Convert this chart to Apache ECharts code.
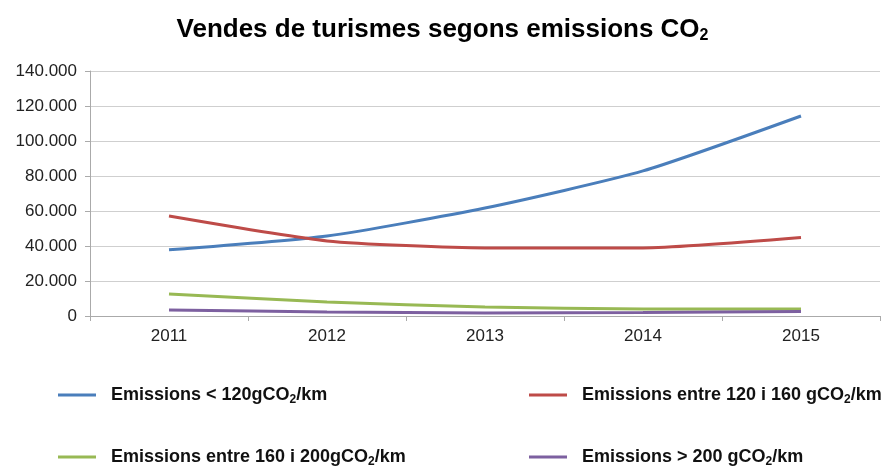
<!DOCTYPE html>
<html>
<head>
<meta charset="utf-8">
<script src="https://cdn.jsdelivr.net/npm/echarts@6/dist/echarts.min.js"></script>
<style>
  html, body { margin: 0; padding: 0; background: #fff; }
  #chart { width: 885px; height: 467px; }
</style>
</head>
<body>
<div id="chart"></div>
<script>
// dades llegides del grafic
var years = ['2011', '2012', '2013', '2014', '2015'];
var menys120 = [37800, 45700, 61700, 82900, 114300];
var entre120i160 = [57100, 42900, 38900, 38900, 44800];
var entre160i200 = [12600, 8000, 5100, 4000, 4000];
var mes200 = [3400, 2300, 1700, 2000, 2600];

var names = [
    'Emissions < 120gCO2/km',
    'Emissions entre 120 i 160 gCO2/km',
    'Emissions entre 160 i 200gCO2/km',
    'Emissions > 200 gCO2/km'
];
var colors = ['#4a7ebb', '#be4b48', '#98b954', '#7d60a0'];

var font = '"Liberation Sans", Arial, sans-serif';

// posa el 2 de CO2 com a subindex
function subCO2(name) {
    var parts = name.split('CO2');
    return '{t|' + parts[0] + 'CO}{s|2}{t|' + parts[1] + '}';
}

var legendRich = {
    t: { fontFamily: font, fontSize: 18, fontWeight: 'bold', color: '#111' },
    s: { fontFamily: font, fontSize: 12, fontWeight: 'bold', color: '#111', padding: [10, 0, 0, 0] }
};

function legendAt(name, left, top) {
    return {
        data: [name],
        left: left,
        top: top,
        icon: 'rect',
        itemWidth: 38,
        itemHeight: 3,
        itemGap: 0,
        formatter: subCO2,
        textStyle: { rich: legendRich, padding: [0, 0, 0, 10] }
    };
}

function fmt(v) {
    return String(v).replace(/\B(?=(\d{3})+(?!\d))/g, '.');
}

var myChart = echarts.init(document.getElementById('chart'));
var seriesData = [menys120, entre120i160, entre160i200, mes200];

myChart.setOption({
    animation: false,
    color: colors,
    title: {
        text: '{t|Vendes de turismes segons emissions CO}{s|2}',
        left: 'center',
        top: 10,
        textStyle: {
            rich: {
                t: { fontFamily: font, fontSize: 26, color: '#000', fontWeight: 'bold' },
                s: { fontFamily: font, fontSize: 16, color: '#000', fontWeight: 'bold', padding: [13, 0, 0, 0] }
            }
        }
    },
    legend: [
        legendAt(names[0], 53, 381),
        legendAt(names[1], 524, 381),
        legendAt(names[2], 53, 443),
        legendAt(names[3], 524, 443)
    ],
    grid: { left: 90, right: 5, top: 71, bottom: 151 },
    xAxis: {
        type: 'category',
        data: years,
        boundaryGap: true,
        axisLine: { lineStyle: { color: '#aaa' } },
        axisTick: { show: true, length: 5, lineStyle: { color: '#aaa' } },
        axisLabel: { color: '#222', fontSize: 17, margin: 12, fontFamily: font }
    },
    yAxis: {
        type: 'value',
        min: 0,
        max: 140000,
        interval: 20000,
        axisLine: { show: true, lineStyle: { color: '#aaa' } },
        axisTick: { show: true, length: 5, lineStyle: { color: '#aaa' } },
        splitLine: { lineStyle: { color: '#cfcfcf' } },
        axisLabel: {
            color: '#222', fontSize: 17, margin: 13,
            fontFamily: font,
            formatter: fmt
        }
    },
    series: seriesData.map(function (d, i) {
        return {
            name: names[i],
            type: 'line',
            data: d,
            smooth: 0.2,
            symbol: 'none',
            lineStyle: { width: 3, color: colors[i] }
        };
    })
});
</script>
</body>
</html>
